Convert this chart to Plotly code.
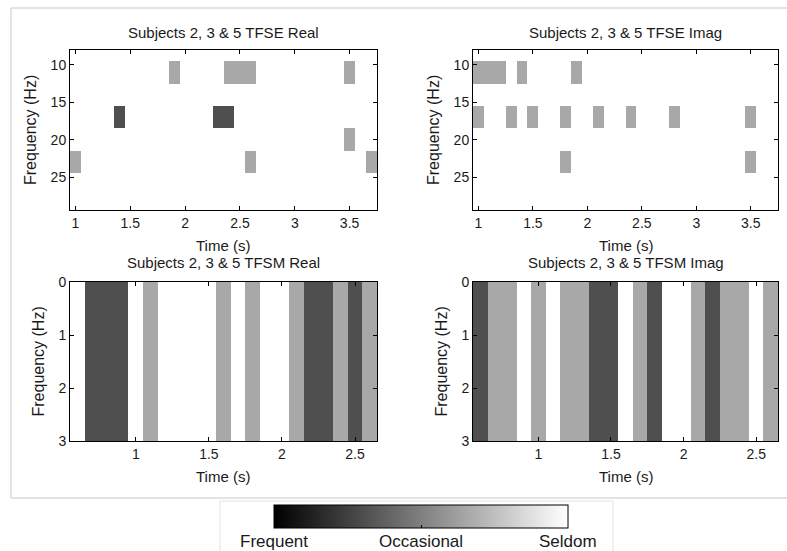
import plotly.graph_objects as go

W, H = 787, 551

# grey levels on the Frequent(0) .. Seldom(1) scale
DARK, LIGHT, NONE = 0.31, 0.66, 1.0

# ---- TFSE panels: time bins (s) x frequency bins (Hz) ----
tfse_times = [1.0, 1.1, 1.2, 1.3, 1.4, 1.5, 1.6, 1.7, 1.8, 1.9, 2.0, 2.1, 2.2, 2.3,
              2.4, 2.5, 2.6, 2.7, 2.8, 2.9, 3.0, 3.1, 3.2, 3.3, 3.4, 3.5, 3.6, 3.7]
tfse_freqs = [8, 11, 14, 17, 20, 23, 26, 29]

# active cells of the real part
real_cell_t = [1.9, 2.4, 2.5, 2.6, 3.5, 1.4, 2.3, 2.4, 3.5, 1.0, 2.6, 3.7]
real_cell_f = [11, 11, 11, 11, 11, 17, 17, 17, 20, 23, 23, 23]
real_cell_v = [LIGHT, LIGHT, LIGHT, LIGHT, LIGHT, DARK, DARK, DARK, LIGHT, LIGHT, LIGHT, LIGHT]

# active cells of the imaginary part
imag_cell_t = [1.0, 1.1, 1.2, 1.4, 1.9, 1.0, 1.3, 1.5, 1.8, 2.1, 2.4, 2.8, 3.5, 1.8, 3.5]
imag_cell_f = [11, 11, 11, 11, 11, 17, 17, 17, 17, 17, 17, 17, 17, 23, 23]
imag_cell_v = [LIGHT] * 15

# ---- TFSM panels: one level per time bin, spanning 0-3 Hz ----
tfsm_times = [0.6, 0.7, 0.8, 0.9, 1.0, 1.1, 1.2, 1.3, 1.4, 1.5, 1.6,
              1.7, 1.8, 1.9, 2.0, 2.1, 2.2, 2.3, 2.4, 2.5, 2.6]
tfsm_freqs = [0.5, 1.5, 2.5]
tfsm_real = [NONE, DARK, DARK, DARK, NONE, LIGHT, NONE, NONE, NONE, NONE, LIGHT,
             NONE, LIGHT, NONE, NONE, LIGHT, DARK, DARK, LIGHT, DARK, LIGHT]
tfsm_imag = [DARK, LIGHT, LIGHT, NONE, LIGHT, NONE, LIGHT, LIGHT, DARK, DARK, NONE,
             LIGHT, DARK, NONE, NONE, LIGHT, DARK, LIGHT, LIGHT, NONE, LIGHT]

legend_vals = [0, 0.5, 1]
legend_text = ["Frequent", "Occasional", "Seldom"]

titles = ["Subjects 2, 3 & 5 TFSE Real", "Subjects 2, 3 & 5 TFSE Imag",
          "Subjects 2, 3 & 5 TFSM Real", "Subjects 2, 3 & 5 TFSM Imag"]


def cell_grid(times, freqs, ct, cf, cv):
    z = [[NONE for _ in times] for _ in freqs]
    for t, f, v in zip(ct, cf, cv):
        z[freqs.index(f)][min(range(len(times)), key=lambda i: abs(times[i] - t))] = v
    return z


def px_x(a, b):
    return [a / W, b / W]


def px_y(top, bottom):
    return [1 - bottom / H, 1 - top / H]


FONT = "Liberation Sans, Arial, sans-serif"
TXT = "#1a1a1a"

fig = go.Figure()

panels = [
    dict(x=tfse_times, y=tfse_freqs, z=cell_grid(tfse_times, tfse_freqs, real_cell_t, real_cell_f, real_cell_v)),
    dict(x=tfse_times, y=tfse_freqs, z=cell_grid(tfse_times, tfse_freqs, imag_cell_t, imag_cell_f, imag_cell_v)),
    dict(x=tfsm_times, y=tfsm_freqs, z=[tfsm_real for _ in tfsm_freqs]),
    dict(x=tfsm_times, y=tfsm_freqs, z=[tfsm_imag for _ in tfsm_freqs]),
]

# pixel boxes of the four plot areas: (left, right, top, bottom)
boxes = [(70, 377, 50, 210), (473, 778, 50, 210), (70, 377, 282, 441), (473, 778, 282, 441)]

for i, (p, b) in enumerate(zip(panels, boxes)):
    n = "" if i == 0 else str(i + 1)
    fig.add_trace(go.Heatmap(x=p["x"], y=p["y"], z=p["z"], coloraxis="coloraxis",
                             xaxis="x" + n, yaxis="y" + n, hoverinfo="skip"))
    top = i < 2
    ax = dict(domain=px_x(b[0], b[1]), anchor="y" + n, showgrid=False, zeroline=False,
              showline=True, linecolor="black", linewidth=1, mirror="ticks",
              ticks="inside", ticklen=4, tickcolor="black",
              tickfont=dict(family=FONT, size=14, color=TXT))
    ay = dict(ax)
    ay["domain"] = px_y(b[2], b[3])
    ay["anchor"] = "x" + n
    if top:
        ax.update(range=[0.95, 3.75], tickvals=[1, 1.5, 2, 2.5, 3, 3.5])
        ay.update(range=[29.4, 8], tickvals=[10, 15, 20, 25])
    else:
        ax.update(range=[0.55, 2.65], tickvals=[1, 1.5, 2, 2.5])
        ay.update(range=[3, 0], tickvals=[0, 1, 2, 3])
    fig.layout["xaxis" + n] = ax
    fig.layout["yaxis" + n] = ay


def label(text, x, y, size, angle=0):
    return dict(text=text, x=x / W, y=1 - y / H, xref="paper", yref="paper",
                xanchor="center", yanchor="middle", textangle=angle, showarrow=False,
                font=dict(family=FONT, size=size, color=TXT))


annotations = []
for i, b in enumerate(boxes):
    cx = (b[0] + b[1]) / 2
    title_y = b[2] - 17 if i < 2 else b[2] - 19
    annotations.append(label(titles[i], cx, title_y, 15))
    annotations.append(label("Time (s)", cx, b[3] + 35, 15))
    ylab_x = b[0] - (40 if i < 2 else 32)
    annotations.append(label("Frequency (Hz)", ylab_x, (b[2] + b[3]) / 2, 16, -90))

# colour bar geometry (pixels) and its category labels
BAR_L, BAR_W, BAR_TOP, BAR_H = 274, 294, 505, 23
for v, t in zip(legend_vals, legend_text):
    annotations.append(label(t, BAR_L + v * BAR_W, 541, 17))

shapes = [
    dict(type="rect", xref="paper", yref="paper", x0=11 / W, x1=1.02, y0=1 - 498 / H, y1=1 - 8 / H,
         line=dict(color="#c8c8c8", width=1)),
    dict(type="rect", xref="paper", yref="paper", x0=220 / W, x1=613 / W, y0=-0.05, y1=1 - 501 / H,
         line=dict(color="#e2e2e2", width=1)),
]

fig.update_layout(
    width=W, height=H, margin=dict(l=0, r=0, t=0, b=0, autoexpand=False),
    paper_bgcolor="white", plot_bgcolor="white",
    annotations=annotations, shapes=shapes, showlegend=False,
    coloraxis=dict(
        colorscale=[[0, "black"], [1, "white"]], cmin=0, cmax=1,
        colorbar=dict(orientation="h", x=(BAR_L + BAR_W / 2) / W, xanchor="center",
                      y=1 - BAR_TOP / H, yanchor="top",
                      lenmode="pixels", len=BAR_W, thicknessmode="pixels", thickness=BAR_H,
                      xpad=0, ypad=0, outlinecolor="black", outlinewidth=1,
                      tickvals=[0.5], ticks="inside", ticklen=3, tickcolor="black",
                      showticklabels=False),
    ),
)

fig.write_html("out.html")
